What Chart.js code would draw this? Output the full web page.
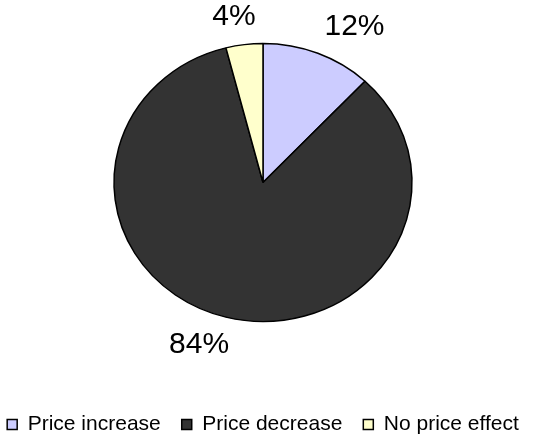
<!DOCTYPE html>
<html>
<head>
<meta charset="utf-8">
<script src="https://cdn.jsdelivr.net/npm/chart.js@4/dist/chart.umd.min.js"></script>
<style>
  html, body { margin: 0; padding: 0; background: #fff; overflow: hidden; }
  #frame { position: relative; width: 541px; height: 437px; overflow: hidden; }
  #c { display: block; position: absolute; left: -30px; top: -40px; }
</style>
</head>
<body>
<div id="frame">
<canvas id="c" width="571" height="485" style="width:571px;height:485px"></canvas>
</div>
<script>
// Share of responses by effect on price
const categories = ['Price increase', 'Price decrease', 'No price effect'];
const shares = [12, 84, 4];
const sliceColors = ['#CCCCFF', '#333333', '#FFFFCC'];

const FONT = '"Liberation Sans", Arial, sans-serif';
const PIE_RADIUS = 149;
const FLATTEN = 139 / 149;   // vertical squash of the pie

// Squash the pie vertically around its centre
const flattenPie = {
  id: 'flattenPie',
  beforeDatasetsDraw(chart) {
    const arc = chart.getDatasetMeta(0).data[0];
    const ctx = chart.ctx;
    ctx.save();
    ctx.translate(arc.x, arc.y);
    ctx.scale(1, FLATTEN);
    ctx.translate(-arc.x, -arc.y);
  },
  afterDatasetsDraw(chart) {
    chart.ctx.restore();
  }
};

// Percentage labels placed just outside each slice
const outsideLabels = {
  id: 'outsideLabels',
  afterDraw(chart) {
    const ctx = chart.ctx;
    const meta = chart.getDatasetMeta(0);
    ctx.save();
    ctx.font = '30px ' + FONT;
    ctx.fillStyle = '#000';
    ctx.textAlign = 'center';
    ctx.textBaseline = 'middle';
    meta.data.forEach((arc, i) => {
      const text = shares[i] + '%';
      const mid = (arc.startAngle + arc.endAngle) / 2;
      const dx = Math.cos(mid), dy = Math.sin(mid);
      const r = arc.outerRadius + 18;
      const ax = arc.x + dx * r;
      const ay = arc.y + dy * r * FLATTEN;
      const w = ctx.measureText(text).width;
      const h = 22;
      const clamp = v => Math.max(-1, Math.min(1, v));
      const cx = ax + clamp(dx * 3) * w / 2;
      const cy = ay + clamp(dy * 3) * h / 2;
      ctx.fillText(text, cx, cy);
    });
    ctx.restore();
  }
};

new Chart(document.getElementById('c'), {
  type: 'pie',
  data: {
    labels: categories,
    datasets: [{
      data: shares,
      backgroundColor: sliceColors,
      borderColor: '#000',
      borderWidth: 1.5,
      radius: PIE_RADIUS
    }]
  },
  options: {
    responsive: false,
    animation: false,
    layout: { padding: { top: 12, bottom: 0, left: 15, right: 0 } },
    plugins: {
      legend: {
        position: 'bottom',
        labels: {
          font: { family: FONT, size: 21 },
          color: '#000',
          boxWidth: 10,
          boxHeight: 10,
          padding: 21
        }
      },
      tooltip: { enabled: false }
    }
  },
  plugins: [flattenPie, outsideLabels]
});
</script>
</body>
</html>
